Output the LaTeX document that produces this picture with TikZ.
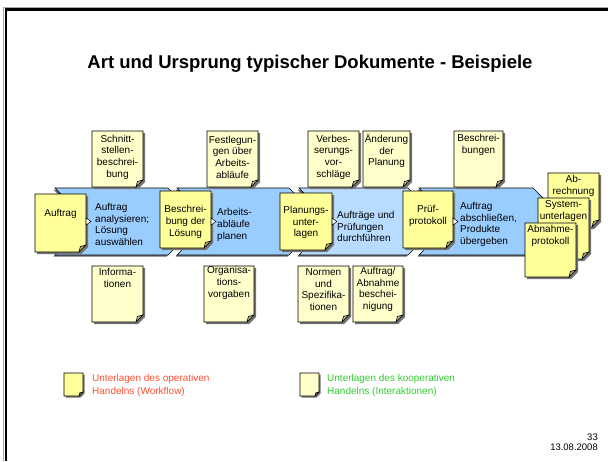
\documentclass[tikz,border=0pt]{standalone}
\usepackage{fontspec}
\setmainfont{Liberation Sans}
\usetikzlibrary{calc}

\definecolor{opyellow}{RGB}{255,255,153}
\definecolor{koyellow}{RGB}{255,255,204}
\definecolor{bandblue}{RGB}{153,204,255}
\definecolor{bandlight}{RGB}{184,220,255}
\definecolor{legendred}{RGB}{255,80,50}
\definecolor{legendgreen}{RGB}{50,205,50}

\begin{document}
\begin{tikzpicture}[x=1pt,y=-1pt,
    notedraw/.style={draw=black, line width=0.6pt},
    noteshadow/.style={fill=black!55},
    doctext/.style={font=\fontsize{10}{11.7}\selectfont, align=center, inner sep=0pt},
    steptext/.style={font=\fontsize{10}{11.7}\selectfont, align=left, anchor=west, inner sep=0pt},
    chevron/.style={draw=black, line width=0.6pt},
    marker/.style={fill=white, draw=black, line width=0.5pt}]
    \useasboundingbox[fill=white] (0,0) rectangle (608,461);

    % Slide frame (top and left edge)
    \draw[black!35, line width=1.5pt] (3.5,461) -- (3.5,7.5) -- (608,7.5);
    \draw[black, line width=2.5pt] (6,461) -- (6,9.5) -- (608,9.5);

    \node[font=\fontsize{18.5}{22}\bfseries\selectfont] (title) at (310,64)
        {Art und Ursprung typischer Dokumente - Beispiele};

    % Process band - four chevrons
    \foreach \xa/\xb/\col in {55/168/bandblue, 177/289/bandblue, 299/408/bandlight, 419/533/bandblue} {
        \fill[black!60] (\xa-1.5,189.5) -- (\xb-1.5,189.5) -- (\xb+31.5,223) -- (\xb-1.5,256.5)
            -- (\xa-1.5,256.5) -- (\xa+31.5,223) -- cycle;
        \filldraw[chevron, fill=\col] (\xa,188) -- (\xb,188) -- (\xb+33,221.5) -- (\xb,255)
            -- (\xa,255) -- (\xa+33,221.5) -- cycle;
    }
    \node[steptext] (analyse) at (95,224.5) {Auftrag\\analysieren;\\Lösung\\auswählen};
    \node[steptext] (planen) at (217,225) {Arbeits-\\abläufe\\planen};
    \node[steptext] (durchf) at (337,226.5) {Aufträge und\\Prüfungen\\durchführen};
    \node[steptext] (abschl) at (460,224.5) {Auftrag\\abschließen,\\Produkte\\übergeben};

    % Documents of cooperative action (light yellow)
    \foreach \nm/\xa/\ya/\xb/\yb/\ty/\txt in {
        schnitt/92/131/143/187/157/{Schnitt-\\stellen-\\beschrei-\\bung},
        festl/207/131/258/187/157/{Festlegun-\\gen über\\Arbeits-\\abläufe},
        verbess/308/131/359/187/157/{Verbes-\\serungs-\\vor-\\schläge},
        aenderung/363/131/410/187/151/{Änderung\\der\\Planung},
        beschrbg/454/131/503/187/145/{Beschrei-\\bungen},
        info/92/266/143/322/278/{Informa-\\tionen},
        orga/204/266/254/322/283/{Organisa-\\tions-\\vorgaben},
        normen/298/266/349/322/289.5/{Normen\\und\\Spezifika-\\tionen},
        abnbesch/353/266/403/322/289.5/{Auftrag/\\Abnahme\\beschei-\\nigung}} {
        \fill[noteshadow] (\xa+2,\ya+2) -- (\xb+2,\ya+2) -- (\xb+2,\yb-5) -- (\xb-5,\yb+2) -- (\xa+2,\yb+2) -- cycle;
        \filldraw[notedraw, fill=koyellow] (\xa,\ya) -- (\xb,\ya) -- (\xb,\yb-7) -- (\xb-7,\yb) -- (\xa,\yb) -- cycle;
        \filldraw[notedraw, fill=koyellow!70!black] (\xb-7,\yb) -- (\xb-5.6,\yb-5.6) -- (\xb,\yb-7) -- cycle;
        \node[doctext] (\nm) at ({(\xa+\xb)/2},\ty) {\txt};
    }

    % Documents of operative action (yellow)
    \foreach \nm/\xa/\ya/\xb/\yb/\ty/\txt in {
        auftrag/35/194/86/252/214/{Auftrag},
        beschrl/160/191/211/248/222/{Beschrei-\\bung der\\Lösung},
        planung/280/193/332/250/222.5/{Planungs-\\unter-\\lagen},
        pruef/403/191/453/248/216/{Prüf-\\protokoll},
        abrech/548/173/599/227/186/{Ab-\\rechnung},
        system/538/198/589/259/211/{System-\\unterlagen},
        abnahme/525/223/576/277/236/{Abnahme-\\protokoll}} {
        \fill[noteshadow] (\xa+2,\ya+2) -- (\xb+2,\ya+2) -- (\xb+2,\yb-5) -- (\xb-5,\yb+2) -- (\xa+2,\yb+2) -- cycle;
        \filldraw[notedraw, fill=opyellow] (\xa,\ya) -- (\xb,\ya) -- (\xb,\yb-7) -- (\xb-7,\yb) -- (\xa,\yb) -- cycle;
        \filldraw[notedraw, fill=opyellow!70!black] (\xb-7,\yb) -- (\xb-5.6,\yb-5.6) -- (\xb,\yb-7) -- cycle;
        \node[doctext] (\nm) at ({(\xa+\xb)/2},\ty) {\txt};
    }

    % Small markers at the right edge of the band documents
    \foreach \xr in {86,211,332,453} {
        \filldraw[marker] (\xr,218) -- (\xr+5,221.5) -- (\xr,225) -- cycle;
    }

    % Legend
    \foreach \xa/\col in {64/opyellow, 300/koyellow} {
        \fill[noteshadow] (\xa+1.5,374.5) -- (\xa+20.5,374.5) -- (\xa+20.5,393.5) -- (\xa+16.5,397.5) -- (\xa+1.5,397.5) -- cycle;
        \filldraw[notedraw, fill=\col] (\xa,373) -- (\xa+19,373) -- (\xa+19,392) -- (\xa+15,396) -- (\xa,396) -- cycle;
        \filldraw[notedraw, fill=\col!70!black] (\xa+15,396) -- (\xa+15.8,392.8) -- (\xa+19,392) -- cycle;
    }
    \node[steptext, text=legendred, font=\fontsize{10}{12.5}\selectfont] (legop) at (92,385.5)
        {Unterlagen des operativen\\Handelns (Workflow)};
    \node[steptext, text=legendgreen, font=\fontsize{10}{12.5}\selectfont] (legko) at (327,385.5)
        {Unterlagen des kooperativen\\Handelns (Interaktionen)};

    % Page number and date
    \node[font=\fontsize{9.5}{10.5}\selectfont, align=right, anchor=east, inner sep=0pt] (pagenum) at (598,442)
        {33\\13.08.2008};
\end{tikzpicture}
\end{document}
